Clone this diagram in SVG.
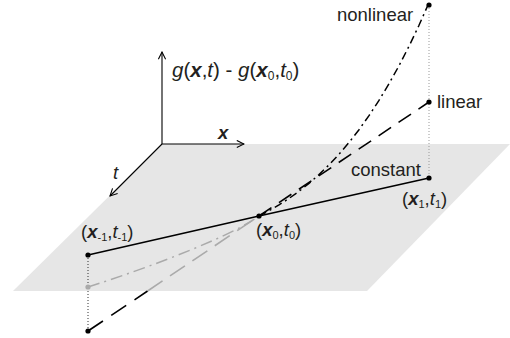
<svg xmlns="http://www.w3.org/2000/svg" width="510" height="338" viewBox="0 0 510 338">
<defs>
<marker id="arr" viewBox="0 0 10 10" refX="9" refY="5" markerWidth="9" markerHeight="9" markerUnits="userSpaceOnUse" orient="auto">
<path d="M1,1 L9,5 L1,9" fill="none" stroke="#000" stroke-width="1.2"/>
</marker>
<style>
text{font-family:"Liberation Sans",Arial,sans-serif;font-size:18.5px;fill:#231f20}
.big{font-size:20.5px}
.bi{font-weight:bold;font-style:italic}
.it{font-style:italic}
.sub{font-size:11px}
.big .sub{font-size:12px}
.axis{stroke:#000;stroke-width:1.1;fill:none}
.solid{stroke:#000;stroke-width:1.6;fill:none}
.dash{stroke:#000;stroke-width:1.6;fill:none;stroke-dasharray:15 9}
.dashg{stroke:#aaa;stroke-width:1.6;fill:none;stroke-dasharray:18 9}
.dashl{stroke:#000;stroke-width:1.6;fill:none;stroke-dasharray:18 10}
.dd{stroke:#000;stroke-width:1.5;fill:none;stroke-dasharray:8 4 2 4}
.ddg{stroke:#aaa;stroke-width:1.5;fill:none;stroke-dasharray:12 5 2 5}
.dot{stroke-width:1;fill:none;stroke-dasharray:1 2}
</style>
</defs>
<rect width="510" height="338" fill="#fff"/>
<polygon id="plane" points="162,144 510,144 367,291 13,291" fill="#e6e6e6"/>
<g id="axes">
<line class="axis" x1="162" y1="144" x2="162" y2="52" marker-end="url(#arr)"/>
<line class="axis" x1="162" y1="144" x2="244" y2="144" marker-end="url(#arr)"/>
<line class="axis" x1="162" y1="144" x2="110" y2="196" marker-end="url(#arr)"/>
<text class="big" x="172" y="77"><tspan class="it">g</tspan>(<tspan class="bi">x</tspan>,<tspan class="it">t</tspan>) - <tspan class="it">g</tspan>(<tspan class="bi">x</tspan><tspan class="sub" dy="3">0</tspan><tspan dy="-3">,</tspan><tspan class="it">t</tspan><tspan class="sub" dy="3">0</tspan><tspan dy="-3">)</tspan></text>
<text class="bi" x="218" y="139">x</text>
<text class="it" x="113" y="179">t</text>
</g>
<g id="connectors">
<line class="dot" x1="429" y1="5" x2="429" y2="178" stroke="#999"/>
<line class="dot" x1="88" y1="255" x2="88" y2="331" stroke="#333"/>
<path class="ddg" d="M88,287 C160,264 235,234 259,216"/>
<path class="dashl" d="M88,331 L147.6,291"/>
<path class="dashg" d="M147.6,291 L259,216"/>
<path class="dash" d="M259,216 L429,102"/>
<path class="dd" d="M259,216 L269,210.74 L279,204.92 L289,198.46 L299,191.3 L309,183.37 L319,174.59 L329,164.91 L339,154.25 L349,142.53 L359,129.69 L369,115.66 L379,100.38 L389,83.77 L399,65.76 L409,46.28 L419,25.28 L428,5"/>
<path class="solid" d="M88,255 L259,216 L429,178"/>
</g>
<g id="node-xm1">
<circle cx="88" cy="255" r="2.6" fill="#000"/>
<text x="81" y="238">(<tspan class="bi">x</tspan><tspan class="sub" dy="3">-1</tspan><tspan dy="-3">,</tspan><tspan class="it">t</tspan><tspan class="sub" dy="3">-1</tspan><tspan dy="-3">)</tspan></text>
</g>
<g id="node-grey">
<circle cx="88" cy="287" r="2.6" fill="#aaa"/>
</g>
<g id="node-bottom">
<circle cx="88" cy="331" r="2.6" fill="#000"/>
</g>
<g id="node-x0">
<circle cx="259" cy="216" r="2.6" fill="#000"/>
<text x="256" y="236">(<tspan class="bi">x</tspan><tspan class="sub" dy="3">0</tspan><tspan dy="-3">,</tspan><tspan class="it">t</tspan><tspan class="sub" dy="3">0</tspan><tspan dy="-3">)</tspan></text>
</g>
<g id="node-x1">
<circle cx="429" cy="178" r="2.6" fill="#000"/>
<text x="351" y="176">constant</text>
<text x="402" y="205">(<tspan class="bi">x</tspan><tspan class="sub" dy="3">1</tspan><tspan dy="-3">,</tspan><tspan class="it">t</tspan><tspan class="sub" dy="3">1</tspan><tspan dy="-3">)</tspan></text>
</g>
<g id="node-linear">
<circle cx="429" cy="102" r="2.6" fill="#000"/>
<text x="437" y="108">linear</text>
</g>
<g id="node-nonlinear">
<circle cx="429" cy="5" r="2.6" fill="#000"/>
<text x="337" y="21">nonlinear</text>
</g>
</svg>
